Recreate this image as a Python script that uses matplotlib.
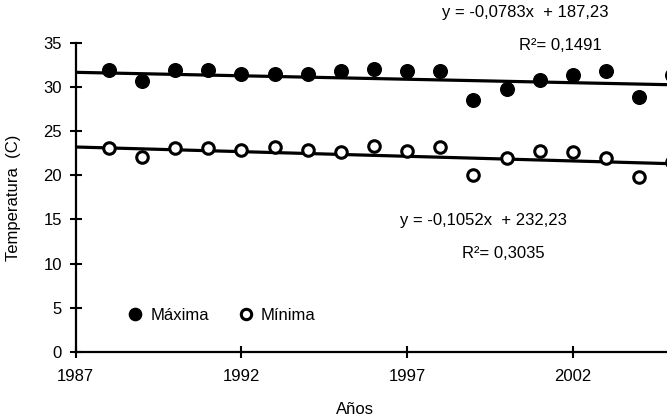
import matplotlib
matplotlib.use("Agg")
import matplotlib.pyplot as plt
import numpy as np

plt.rcParams['font.family'] = ['Liberation Sans', 'DejaVu Sans']

years = list(range(1988, 2006))
maxima = [31.9, 30.7, 31.9, 31.9, 31.5, 31.5, 31.5, 31.8, 32.0, 31.8, 31.8, 28.5, 29.8, 30.8, 31.4, 31.8, 28.8, 31.4]
minima = [23.1, 22.1, 23.1, 23.1, 22.9, 23.2, 22.9, 22.6, 23.3, 22.8, 23.2, 20.0, 21.9, 22.8, 22.6, 21.9, 19.8, 21.5]
max_fit = (-0.0783, 187.23)
min_fit = (-0.1052, 232.23)
max_eq = "y = -0,0783x  + 187,23"
max_r2 = "R²= 0,1491"
min_eq = "y = -0,1052x  + 232,23"
min_r2 = "R²= 0,3035"
xticks = [1987, 1992, 1997, 2002]
yticks = list(range(0, 36, 5))

FS = 12

fig = plt.figure(figsize=(6.67, 4.2), dpi=100)
ax = fig.add_axes([75.7/667, 1-352/420, 1-75.7/667, (352-42.7)/420])

yr = np.array(years, dtype=float)
line_x = np.array([1987.0, 2006.0])
ax.plot(line_x, max_fit[0]*line_x + max_fit[1], color='black', lw=2.3, zorder=2)
ax.plot(line_x, min_fit[0]*line_x + min_fit[1], color='black', lw=2.3, zorder=2)

ax.plot(yr, maxima, 'o', color='black', ms=9.8, clip_on=False, zorder=3, label='Máxima')
ax.plot(yr, minima, 'o', mfc='white', mec='black', mew=2.2, ms=8.3, clip_on=False, zorder=3, label='Mínima')

ax.set_xlim(1987, 2004.84)
ax.set_ylim(0, 35)
ax.set_xticks(xticks)
ax.set_yticks(yticks)
for s in ['top', 'right']:
    ax.spines[s].set_visible(False)
for s in ['left', 'bottom']:
    ax.spines[s].set_linewidth(1.6)
ax.tick_params(direction='inout', length=8.6, width=1.5, labelsize=FS)
ax.tick_params(axis='x', pad=7.8)
ax.tick_params(axis='y', pad=5.7)
ax.set_xlabel('Años', fontsize=FS, va='center')
ax.xaxis.set_label_coords((355-75.7)/591.3, (352-409)/309.3)
ax.set_ylabel('Temperatura  (C)', fontsize=FS, va='center')
ax.yaxis.set_label_coords((14-75.7)/591.3, 0.5)

leg = ax.legend(loc='center left', bbox_to_anchor=((127-75.7)/591.3, (352-315)/309.3), ncol=2,
                frameon=False, fontsize=FS, handletextpad=0.4, columnspacing=1.7,
                handlelength=1.0, borderpad=0, borderaxespad=0, markerscale=0.9)

fig.text(525/667, 1-13/420, max_eq, ha='center', va='center', fontsize=FS)
fig.text(560/667, 1-45/420, max_r2, ha='center', va='center', fontsize=FS)
fig.text(483/667, 1-220/420, min_eq, ha='center', va='center', fontsize=FS)
fig.text(503/667, 1-253/420, min_r2, ha='center', va='center', fontsize=FS)

fig.savefig('out.png', dpi=100)
